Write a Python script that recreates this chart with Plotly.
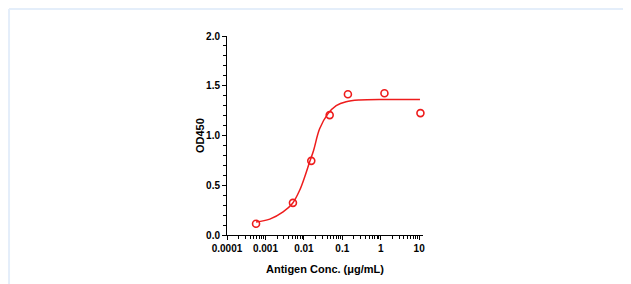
import plotly.graph_objects as go

# Measured data points
conc = [0.00057, 0.0052, 0.0156, 0.047, 0.14, 1.25, 10.8]
od450 = [0.113, 0.323, 0.745, 1.205, 1.415, 1.425, 1.225]

# Fitted curve
curve_x = [0.00057, 0.0013, 0.00288, 0.00504, 0.00778, 0.0105, 0.0141, 0.0179,
           0.0257, 0.0421, 0.0695, 0.126, 0.279, 1.37, 10.5]
curve_y = [0.13, 0.16, 0.233, 0.317, 0.45, 0.583, 0.733, 0.85,
           1.067, 1.217, 1.30, 1.34, 1.357, 1.362, 1.362]

x_tickvals = [0.0001, 0.001, 0.01, 0.1, 1, 10]
x_ticktext = ["0.0001", "0.001", "0.01", "0.1", "1", "10"]
y_tickvals = [0.0, 0.5, 1.0, 1.5, 2.0]
y_ticktext = ["0.0", "0.5", "1.0", "1.5", "2.0"]

RED = "#ee1c1c"
FONT = "Liberation Sans, Arial, sans-serif"

fig = go.Figure()
fig.add_trace(go.Scatter(x=curve_x, y=curve_y, mode="lines",
                         line=dict(color=RED, width=1.5, shape="spline", smoothing=1.0),
                         hoverinfo="skip", showlegend=False, cliponaxis=False))
fig.add_trace(go.Scatter(x=conc, y=od450, mode="markers", cliponaxis=False,
                         marker=dict(symbol="circle-open", size=7, color=RED,
                                     line=dict(color=RED, width=1.6)),
                         showlegend=False))

fig.update_layout(
    width=623, height=276,
    margin=dict(l=219, r=208, t=28, b=49),
    paper_bgcolor="white", plot_bgcolor="white",
    font=dict(family=FONT, color="black"),
    xaxis=dict(type="log", range=[-4, 1.1], automargin=False,
               tickvals=x_tickvals, ticktext=x_ticktext,
               ticks="outside", ticklen=4, tickwidth=1, tickcolor="black",
               showline=True, linecolor="black", linewidth=1,
               showgrid=False, zeroline=False,
               tickfont=dict(family=FONT, size=10, weight="bold"),
               minor=dict(ticks="outside", ticklen=3, tickwidth=1, tickcolor="black",
                          dtick="D1", showgrid=False)),
    yaxis=dict(range=[0, 2.0], automargin=False,
               tickvals=y_tickvals, ticktext=y_ticktext,
               ticks="outside", ticklen=4, tickwidth=1, tickcolor="black",
               showline=True, linecolor="black", linewidth=1,
               showgrid=False, zeroline=False,
               tickfont=dict(family=FONT, size=10, weight="bold"),
               minor=dict(ticks="outside", ticklen=3, tickwidth=1, tickcolor="black",
                          dtick=0.1, showgrid=False)),
    annotations=[
        dict(text="Antigen Conc. (μg/mL)", xref="paper", yref="paper",
             x=0.5, y=-0.171, xanchor="center", yanchor="middle", showarrow=False,
             font=dict(family=FONT, size=11, weight="bold", color="black")),
        dict(text="OD450", xref="paper", yref="paper", textangle=-90,
             x=-0.14, y=0.5, xanchor="center", yanchor="middle", showarrow=False,
             font=dict(family=FONT, size=11, weight="bold", color="black")),
    ],
    shapes=[
        dict(type="line", xref="paper", yref="paper",
             x0=-1.112, x1=2.2, y0=1.136, y1=1.136,
             line=dict(color="#e4eefa", width=2)),
        dict(type="line", xref="paper", yref="paper",
             x0=-1.112, x1=-1.112, y0=1.136, y1=-0.4,
             line=dict(color="#e4eefa", width=2)),
    ],
)

fig.write_html("out.html")
